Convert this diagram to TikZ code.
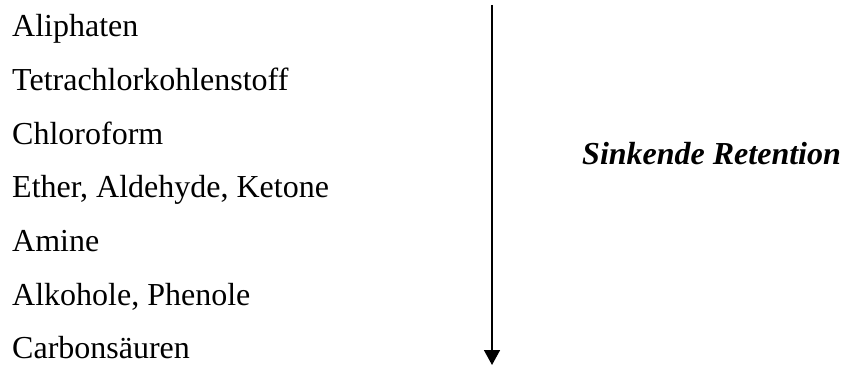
\documentclass[tikz,border=0pt]{standalone}
\usepackage{fontspec}
\setmainfont{Liberation Serif}
\usetikzlibrary{arrows.meta}

\begin{document}
\begin{tikzpicture}[x=1pt, y=1pt,
		eintrag/.style={anchor=base west, inner sep=0pt, font=\fontsize{32}{38}\selectfont}]
			%%%%% START %%%%%
			
			\useasboundingbox (0, 0) rectangle (842, -369);
			
			\node[eintrag] (aliphaten) at (12, -36.7) {Aliphaten};
			\node[eintrag] (tetra) at (12, -90.4) {Tetrachlorkohlenstoff};
			\node[eintrag] (chloroform) at (12, -144.1) {Chloroform};
			\node[eintrag] (ether) at (12, -197.8) {Ether, Aldehyde, Ketone};
			\node[eintrag] (amine) at (12, -251.5) {Amine};
			\node[eintrag] (alkohole) at (12, -305.2) {Alkohole, Phenole};
			\node[eintrag] (carbon) at (12, -358.9) {Carbonsäuren};
			
			\coordinate (oben) at (492, -5);
			\coordinate (unten) at (492, -365);
			\draw[line width=1.6pt, -{Triangle[width=16pt, length=15pt]}] (oben) -- (unten);
			
			\node[eintrag, font=\fontsize{32}{38}\selectfont\bfseries\itshape] (retention) at (582, -164.5) {Sinkende Retention};
			
			%%%%% END %%%%%
\end{tikzpicture}
\end{document}
